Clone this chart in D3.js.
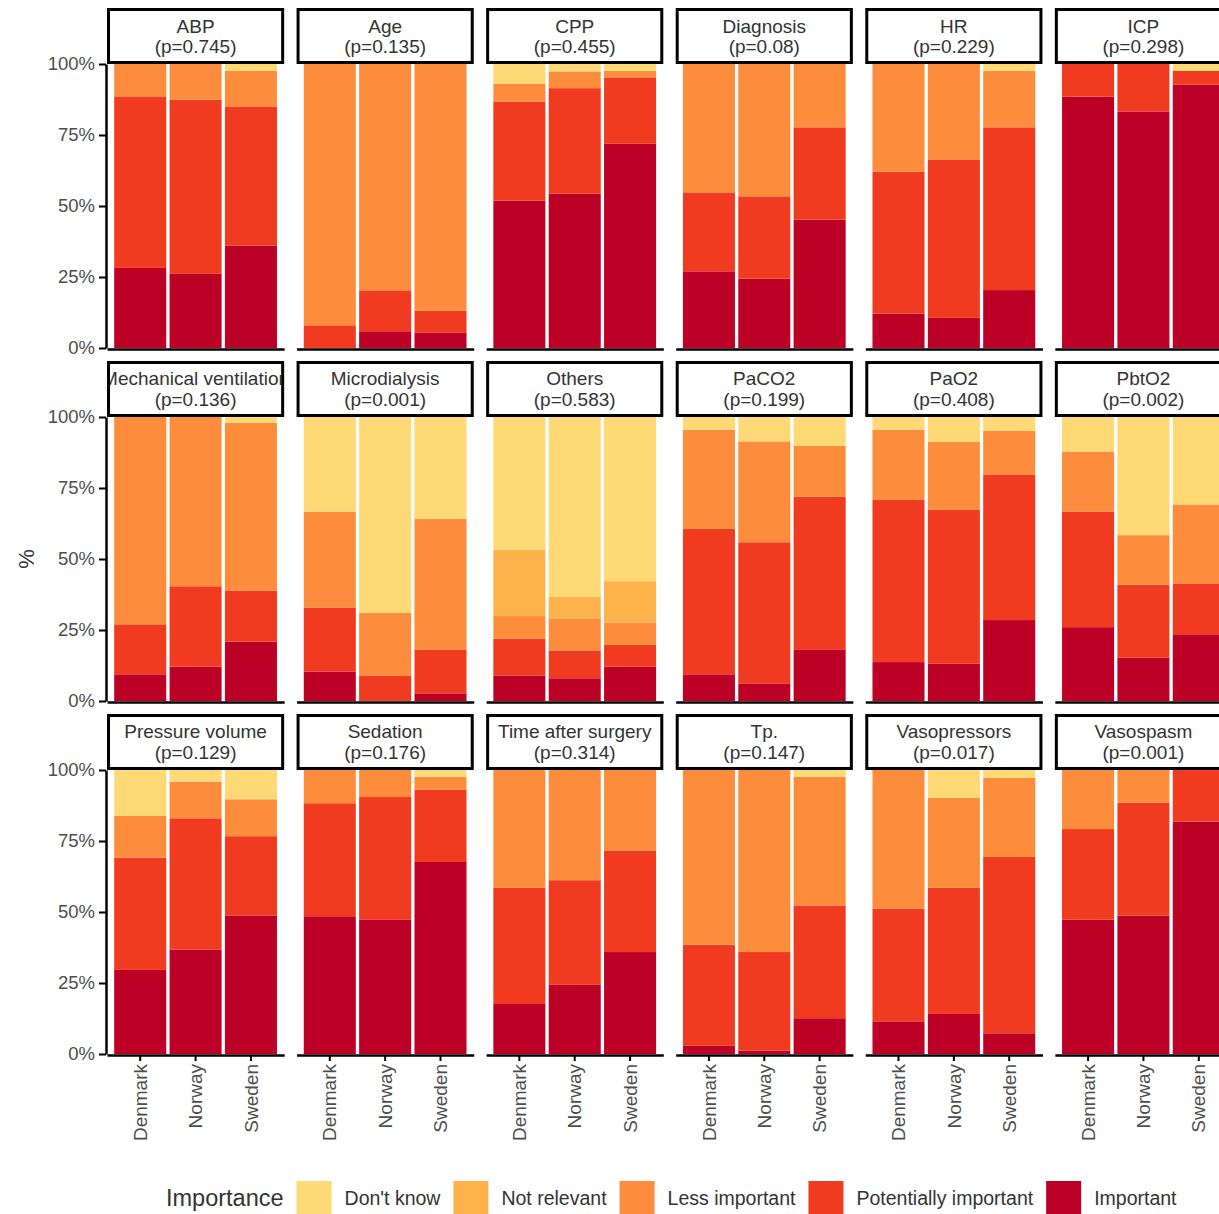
<!DOCTYPE html>
<html lang="en">
<head>
    <meta charset="UTF-8">
    <title>Importance by country</title>
    <script src="https://cdn.jsdelivr.net/npm/d3@7"></script>
    <style>
        html, body {
            margin: 0;
            padding: 0;
            background: #ffffff;
            overflow: hidden;
        }
        svg {
            font-family: "Liberation Sans", Arial, sans-serif;
        }
        .domain {
            stroke: #000;
            stroke-width: 2.5px;
        }
        .tick line {
            stroke: #000;
            stroke-width: 2px;
        }
        .tick text {
            fill: #4d4d4d;
        }
    </style>
</head>
<body>
<script>
    // panels (facets) and their p values
    const panels = ['ABP', 'Age', 'CPP', 'Diagnosis', 'HR', 'ICP',
        'Mechanical ventilation', 'Microdialysis', 'Others', 'PaCO2', 'PaO2', 'PbtO2',
        'Pressure volume', 'Sedation', 'Time after surgery', 'Tp.', 'Vasopressors', 'Vasospasm'];
    const pValues = ['0.745', '0.135', '0.455', '0.08', '0.229', '0.298',
        '0.136', '0.001', '0.583', '0.199', '0.408', '0.002',
        '0.129', '0.176', '0.314', '0.147', '0.017', '0.001'];
    const countries = ['Denmark', 'Norway', 'Sweden'];

    // stacking order, bottom to top
    const levels = ['Important', 'Potentially important', 'Less important', 'Not relevant', "Don't know"];
    const levelColors = ['#bd0026', '#f03b20', '#fd8d3c', '#feb24c', '#fed976'];

    // % per panel, [Denmark, Norway, Sweden]
    const important = [
        [28.2, 26.1, 36.1], [0, 5.9, 5.5], [51.9, 54.3, 71.9], [27.0, 24.4, 45.2], [12.1, 10.6, 20.4], [88.5, 83.3, 92.7],
        [9.4, 12.1, 20.9], [10.4, 0, 2.7], [9.0, 8.0, 12.1], [9.4, 6.2, 18.2], [13.7, 13.1, 28.5], [26.0, 15.3, 23.5],
        [29.6, 36.8, 48.8], [48.5, 47.4, 67.6], [17.6, 24.5, 35.9], [2.9, 1.2, 12.6], [11.5, 14.1, 7.3], [47.3, 48.7, 81.8]
    ];
    const potentially = [
        [60.4, 61.3, 48.8], [8.0, 14.4, 7.6], [34.9, 37.2, 23.4], [27.8, 29.0, 32.5], [50.0, 55.6, 57.3], [11.5, 16.7, 4.9],
        [17.6, 28.3, 18.0], [22.5, 9.0, 15.3], [12.9, 9.8, 7.7], [51.2, 49.7, 53.7], [57.1, 54.2, 51.1], [40.7, 25.7, 17.9],
        [39.5, 46.2, 27.9], [39.8, 43.1, 25.4], [40.9, 36.7, 35.6], [35.6, 34.7, 39.7], [39.7, 44.5, 62.1], [31.9, 39.8, 18.2]
    ];
    const lessImportant = [
        [11.4, 12.6, 12.7], [92.0, 79.7, 86.9], [6.3, 5.9, 2.3], [45.2, 46.6, 22.3], [37.9, 33.8, 19.9], [0, 0, 0],
        [73.0, 59.6, 59.0], [33.8, 22.0, 46.2], [8.0, 11.3, 7.8], [34.9, 35.5, 18.0], [24.7, 24.0, 15.5], [21.1, 17.4, 27.8],
        [14.7, 12.9, 13.0], [11.7, 9.5, 4.6], [41.5, 38.8, 28.5], [61.5, 64.1, 45.3], [48.8, 31.6, 27.9], [20.8, 11.5, 0]
    ];
    const notRelevant = [
        [0, 0, 0], [0, 0, 0], [0, 0, 0], [0, 0, 0], [0, 0, 0], [0, 0, 0],
        [0, 0, 0], [0, 0, 0], [23.4, 7.6, 14.6], [0, 0, 0], [0, 0, 0], [0, 0, 0],
        [0, 0, 0], [0, 0, 0], [0, 0, 0], [0, 0, 0], [0, 0, 0], [0, 0, 0]
    ];
    const dontKnow = [
        [0, 0, 2.4], [0, 0, 0], [6.9, 2.6, 2.4], [0, 0, 0], [0, 0, 2.4], [0, 0, 2.4],
        [0, 0, 2.1], [33.3, 69.0, 35.8], [46.7, 63.3, 57.8], [4.5, 8.6, 10.1], [4.5, 8.7, 4.9], [12.2, 41.6, 30.8],
        [16.2, 4.1, 10.3], [0, 0, 2.4], [0, 0, 0], [0, 0, 2.4], [0, 9.8, 2.7], [0, 0, 0]
    ];
    const seriesValues = [important, potentially, lessImportant, notRelevant, dontKnow];

    const width = 1219;
    const height = 1214;

    let svg = d3.select('body')
        .append('svg')
        .attr('width', width)
        .attr('height', height);

    // facet grid
    let colScale = d3.scaleBand().domain(d3.range(6)).range([107, 1232]).paddingInner(0.0655);
    let rowScale = d3.scaleBand().domain(d3.range(3)).range([8, 1054]).paddingInner(0.0368);
    let pw = colScale.bandwidth();
    let stripH = 56;
    let plotH = rowScale.bandwidth() - stripH;

    let x = d3.scaleBand().domain(countries).range([0, pw]).paddingInner(0.06).paddingOuter(0.13);
    let y = d3.scaleLinear().domain([0, 1]).range([plotH, 0]);
    let color = d3.scaleOrdinal().domain(levels).range(levelColors);

    let stack = d3.stack().keys(levels).offset(d3.stackOffsetExpand);

    let defs = svg.append('defs');

    panels.forEach((name, i) => {
        let col = i % 6;
        let row = Math.floor(i / 6);
        let g = svg.append('g')
            .attr('transform', `translate(${colScale(col)},${rowScale(row)})`);

        // rows for this panel
        let rows = countries.map((c, j) => {
            let r = {country: c};
            levels.forEach((lv, k) => r[lv] = seriesValues[k][i][j]);
            return r;
        });

        // strip
        defs.append('clipPath').attr('id', `strip_${i}`)
            .append('rect').attr('x', 3).attr('y', 0).attr('width', pw - 6).attr('height', stripH);
        g.append('rect')
            .attr('x', 1.5).attr('y', 1.5)
            .attr('width', pw - 3).attr('height', stripH - 3)
            .attr('fill', '#fff').attr('stroke', '#000').attr('stroke-width', 3);
        let st = g.append('text')
            .attr('clip-path', `url(#strip_${i})`)
            .attr('text-anchor', 'middle')
            .attr('font-size', '19px')
            .attr('fill', '#333');
        st.append('tspan').attr('x', pw / 2).attr('y', 24.5).text(name);
        st.append('tspan').attr('x', pw / 2).attr('y', 45).text(`(p=${pValues[i]})`);

        // plot area
        let p = g.append('g').attr('transform', `translate(0,${stripH})`);

        p.selectAll('.layer')
            .data(stack(rows))
            .enter().append('g')
            .attr('fill', d => color(d.key))
            .selectAll('rect')
            .data(d => d)
            .enter().append('rect')
            .attr('x', d => x(d.data.country))
            .attr('width', x.bandwidth())
            .attr('y', d => y(d[1]))
            .attr('height', d => y(d[0]) - y(d[1]));

        // bottom axis
        let xAxis = d3.axisBottom(x).tickSizeOuter(0);
        if (row < 2) {
            xAxis.tickSizeInner(0).tickFormat('');
        } else {
            xAxis.tickSizeInner(6).tickPadding(4);
        }
        let xa = p.append('g')
            .attr('transform', `translate(0,${plotH + 1})`)
            .call(xAxis);
        xa.selectAll('.tick text')
            .attr('font-size', '19px')
            .attr('font-family', null)
            .attr('text-anchor', 'end')
            .attr('transform', 'rotate(-90)')
            .attr('x', -9)
            .attr('y', 0)
            .attr('dy', '0.35em');

        // left axis, first column only
        if (col === 0) {
            let ya = p.append('g')
                .attr('transform', 'translate(-1,0)')
                .call(d3.axisLeft(y)
                    .tickValues([0, 0.25, 0.5, 0.75, 1])
                    .tickFormat(d => `${Math.round(d * 100)}%`)
                    .tickSizeInner(7)
                    .tickSizeOuter(0)
                    .tickPadding(4));
            ya.selectAll('.tick text')
                .attr('font-size', '18.5px')
                .attr('font-family', null);
        }
    });

    // y title
    svg.append('text')
        .attr('transform', `translate(34,${(rowScale(0) + stripH + rowScale(2) + rowScale.bandwidth()) / 2}) rotate(-90)`)
        .attr('text-anchor', 'middle')
        .attr('font-size', '22px')
        .attr('fill', '#333')
        .text('%');

    // legend
    let legend = svg.append('g').attr('transform', 'translate(166,1198)');
    let title = legend.append('text')
        .attr('dy', '0.35em')
        .attr('font-size', '23.5px')
        .attr('fill', '#333')
        .text('Importance');
    let cx = title.node().getComputedTextLength() + 13;
    levels.slice().reverse().forEach(lv => {
        legend.append('rect')
            .attr('x', cx).attr('y', -17)
            .attr('width', 35).attr('height', 35)
            .attr('fill', color(lv));
        cx += 35 + 13;
        let t = legend.append('text')
            .attr('x', cx)
            .attr('dy', '0.35em')
            .attr('font-size', '19.5px')
            .attr('fill', '#333')
            .text(lv);
        cx += t.node().getComputedTextLength() + 13;
    });
</script>
</body>
</html>
